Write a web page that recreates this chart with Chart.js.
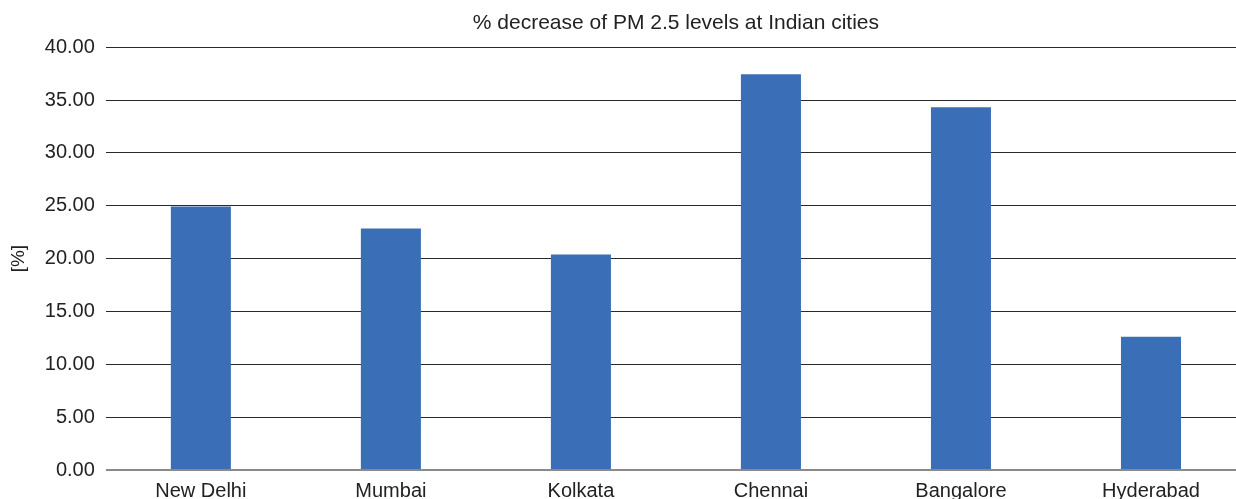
<!DOCTYPE html>
<html>
<head>
<meta charset="utf-8">
<script src="https://cdn.jsdelivr.net/npm/chart.js@4"></script>
<style>
  html, body { margin: 0; padding: 0; background: #fff; overflow: hidden; }
  #wrap { width: 1250px; height: 512px; position: relative; }
</style>
</head>
<body>
<div id="wrap"><canvas id="c"></canvas></div>
<script>
// Cities and their PM 2.5 reduction in percent
const cities = ["New Delhi", "Mumbai", "Kolkata", "Chennai", "Bangalore", "Hyderabad"];
const decreasePct = [24.93, 22.84, 20.38, 37.44, 34.31, 12.61];
const yTicks = [0, 5, 10, 15, 20, 25, 30, 35, 40];

const font = "'Liberation Sans', Arial, sans-serif";

new Chart(document.getElementById("c"), {
  type: "bar",
  data: {
    labels: cities,
    datasets: [{
      data: decreasePct,
      backgroundColor: "#3a6fb8",
      borderWidth: 0,
      categoryPercentage: 1.0,
      barPercentage: 0.316
    }]
  },
  options: {
    responsive: true,
    maintainAspectRatio: false,
    animation: false,
    layout: { padding: { left: 7, right: 4, top: 6, bottom: 0 } },
    plugins: {
      legend: { display: false },
      tooltip: { enabled: false },
      title: {
        display: true,
        fullSize: false,
        text: "% decrease of PM 2.5 levels at Indian cities",
        color: "#222",
        font: { family: font, size: 21, weight: "normal" },
        padding: { top: 5, bottom: 11 }
      }
    },
    scales: {
      x: {
        grid: { display: false, drawTicks: false },
        border: { display: false },
        ticks: {
          color: "#222",
          font: { family: font, size: 20 },
          padding: 9,
          maxRotation: 0
        }
      },
      y: {
        min: 0,
        max: 40,
        afterBuildTicks: (axis) => { axis.ticks = yTicks.map(v => ({ value: v })); },
        grid: {
          drawTicks: false,
          color: (ctx) => ctx.tick && ctx.tick.value === 0 ? "#8a8a8a" : "#2a2a2a",
          lineWidth: (ctx) => ctx.tick && ctx.tick.value === 0 ? 2 : 1
        },
        border: { display: false },
        ticks: {
          color: "#222",
          font: { family: font, size: 20 },
          padding: 11,
          callback: (v) => Number(v).toFixed(2)
        },
        title: {
          display: true,
          text: "[%]",
          color: "#222",
          font: { family: font, size: 19 },
          padding: { top: 0, bottom: 4 }
        }
      }
    }
  }
});
</script>
</body>
</html>
